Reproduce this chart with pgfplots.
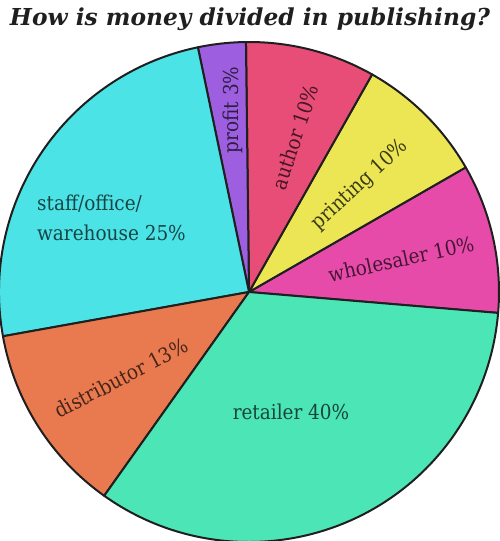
\documentclass[border=0pt]{standalone}
\usepackage{pgfplots}
\pgfplotsset{compat=1.18}
\usepackage{pgfplotstable}
\usepackage{graphicx}
\usepackage{fontspec}
\setmainfont{DejaVu Serif}
\newfontfamily\labfont{DejaVu Serif Condensed}

\definecolor{cwhole}{HTML}{E64BAA}
\definecolor{cprint}{HTML}{ECE655}
\definecolor{cauthor}{HTML}{E84D78}
\definecolor{cprofit}{HTML}{9D5FE0}
\definecolor{cstaff}{HTML}{4CE3E6}
\definecolor{cdist}{HTML}{E97A50}
\definecolor{cretail}{HTML}{4CE6B6}

\tikzset{lab/.style={font=\labfont\fontsize{20.5}{30}\selectfont, inner sep=0pt}}

% slice start/end angles (degrees)
\pgfplotstableread{
label start end col
wholesaler -4.8 29.9 cwhole
printing 29.9 60.5 cprint
author 60.5 90.7 cauthor
profit 90.7 101.8 cprofit
staff 101.8 190.2 cstaff
distributor 190.2 234.6 cdist
retailer 234.6 355.2 cretail
}\slices

\begin{document}
\begin{tikzpicture}
\begin{axis}[
    name=ax,
    x=1pt, y=1pt,
    xmin=0, xmax=500, ymin=0, ymax=541,
    hide axis, xtick=\empty, ytick=\empty,
    clip=false,
]
\pgfplotsinvokeforeach{0,...,6}{
  \pgfplotstablegetelem{#1}{start}\of\slices \let\sa\pgfplotsretval
  \pgfplotstablegetelem{#1}{end}\of\slices \let\sb\pgfplotsretval
  \pgfplotstablegetelem{#1}{col}\of\slices \let\sc\pgfplotsretval
  \edef\wedge{\noexpand\filldraw[fill=\sc, draw=black!88, line width=2pt, line join=round]
    (axis cs:249,249) -- ++(\sa:250pt) arc[start angle=\sa, end angle=\sb, radius=250pt] -- cycle;}
  \wedge
}

\node[lab, rotate=90, text=cprofit!30!black] at (axis cs:233,431) {profit 3\%};
\node[lab, rotate=71.6, text=cauthor!30!black] at (axis cs:295,404) {author 10\%};
\node[lab, rotate=42.5, text=cprint!25!black] at (axis cs:360,356) {printing 10\%};
\node[lab, rotate=12.3, text=cwhole!30!black] at (axis cs:401,282) {wholesaler 10\%};
\node[lab, anchor=west, align=left, text=cstaff!30!black] at (axis cs:37,323) {staff/office/\\warehouse 25\%};
\node[lab, rotate=27.6, text=cdist!30!black] at (axis cs:121,163) {distributor 13\%};
\node[lab, text=cretail!30!black] at (axis cs:291,129) {retailer 40\%};

\node[text=black!88] at (axis cs:250,522)
  {\resizebox{480pt}{!}{\bfseries\itshape How is money divided in publishing?}};
\end{axis}
\pgfresetboundingbox
\path[use as bounding box] (ax.south west) rectangle (ax.north east);
\end{tikzpicture}
\end{document}
